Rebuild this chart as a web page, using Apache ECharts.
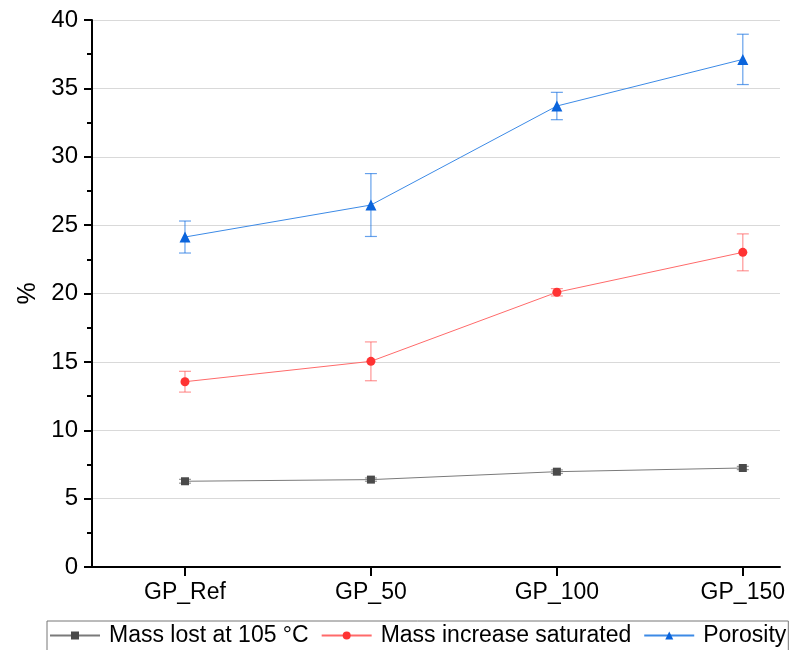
<!DOCTYPE html>
<html>
<head>
<meta charset="utf-8">
<script src="https://cdn.jsdelivr.net/npm/echarts@6/dist/echarts.min.js"></script>
<style>
  html, body { margin: 0; padding: 0; background: #fff; }
  #chart { width: 792px; height: 650px; }
</style>
</head>
<body>
<div id="chart"></div>
<script>
const categories = ['GP_Ref', 'GP_50', 'GP_100', 'GP_150']
const massLost = [6.27, 6.39, 6.97, 7.24]
const massLostErr = [0.14, 0.12, 0.13, 0.12]
const massIncrease = [13.55, 15.04, 20.09, 23.01]
const massIncreaseErr = [0.76, 1.42, 0.27, 1.35]
const porosity = [24.13, 26.47, 33.71, 37.12]
const porosityErr = [1.17, 2.3, 1.0, 1.84]
const yTicks = [0, 5, 10, 15, 20, 25, 30, 35, 40]

const FONT = 'Liberation Sans, Arial, sans-serif'

function points(vals) {
  return vals.map((v, i) => [i, v])
}

function errData(vals, errs) {
  return vals.map((v, i) => [i, v - errs[i], v + errs[i]])
}

function errorBars(data, color) {
  return {
    type: 'custom',
    silent: true,
    z: 1,
    data: data,
    encode: { x: 0, y: [1, 2] },
    renderItem(params, api) {
      const x = api.value(0)
      const lo = api.coord([x, api.value(1)])
      const hi = api.coord([x, api.value(2)])
      const w = 6
      const style = { stroke: color, lineWidth: 1.2 }
      return {
        type: 'group',
        children: [
          { type: 'line', shape: { x1: lo[0], y1: lo[1], x2: hi[0], y2: hi[1] }, style },
          { type: 'line', shape: { x1: lo[0] - w, y1: lo[1], x2: lo[0] + w, y2: lo[1] }, style },
          { type: 'line', shape: { x1: hi[0] - w, y1: hi[1], x2: hi[0] + w, y2: hi[1] }, style }
        ]
      }
    }
  }
}

const chart = echarts.init(document.getElementById('chart'))
chart.setOption({
  animation: false,
  textStyle: { fontFamily: FONT },
  grid: { left: 92, right: 12, top: 20, bottom: 83 },
  legend: {
    left: 47,
    top: 621,
    itemWidth: 50,
    itemHeight: 10,
    itemGap: 12,
    padding: [3, 2, 20, 2],
    borderColor: '#777',
    borderWidth: 1,
    textStyle: { fontSize: 23, color: '#000', fontFamily: FONT, padding: [0, 0, 0, 4] },
    data: ['Mass lost at 105 °C', 'Mass increase saturated', 'Porosity']
  },
  xAxis: {
    type: 'value',
    min: -0.5,
    max: 3.2,
    splitLine: { show: false },
    axisLine: { lineStyle: { color: '#000', width: 2 } },
    axisTick: { customValues: [0, 1, 2, 3], length: 9, lineStyle: { color: '#000', width: 2 } },
    axisLabel: {
      customValues: [0, 1, 2, 3],
      formatter: v => categories[Math.round(v)],
      fontSize: 23,
      color: '#000',
      margin: 14
    }
  },
  yAxis: {
    type: 'value',
    min: yTicks[0],
    max: yTicks[yTicks.length - 1],
    interval: 5,
    name: '%',
    nameLocation: 'middle',
    nameGap: 51,
    nameTextStyle: { fontSize: 25, color: '#000' },
    axisLine: { show: true, onZero: false, lineStyle: { color: '#000', width: 2 } },
    axisTick: { show: true, length: 8, lineStyle: { color: '#000', width: 2 } },
    minorTick: { show: true, splitNumber: 2, length: 5, lineStyle: { color: '#000', width: 2 } },
    splitLine: { show: true, lineStyle: { color: '#d9d9d9', width: 1 } },
    axisLabel: { fontSize: 24, color: '#000', margin: 14 }
  },
  series: [
    errorBars(errData(massLost, massLostErr), 'rgba(80,80,80,0.6)'),
    errorBars(errData(massIncrease, massIncreaseErr), 'rgba(255,80,80,0.6)'),
    errorBars(errData(porosity, porosityErr), 'rgba(20,110,225,0.65)'),
    {
      name: 'Mass lost at 105 °C',
      type: 'line',
      z: 3,
      data: points(massLost),
      symbol: 'rect',
      symbolSize: 8,
      lineStyle: { color: '#7a7a7a', width: 1 },
      itemStyle: { color: '#4a4a4a' }
    },
    {
      name: 'Mass increase saturated',
      type: 'line',
      z: 3,
      data: points(massIncrease),
      symbol: 'circle',
      symbolSize: 9,
      lineStyle: { color: '#ff6a6a', width: 1 },
      itemStyle: { color: '#ff3333' }
    },
    {
      name: 'Porosity',
      type: 'line',
      z: 3,
      data: points(porosity),
      symbol: 'triangle',
      symbolSize: 11,
      lineStyle: { color: '#3c8ae6', width: 1 },
      itemStyle: { color: '#0a64dc' }
    }
  ]
})
</script>
</body>
</html>
